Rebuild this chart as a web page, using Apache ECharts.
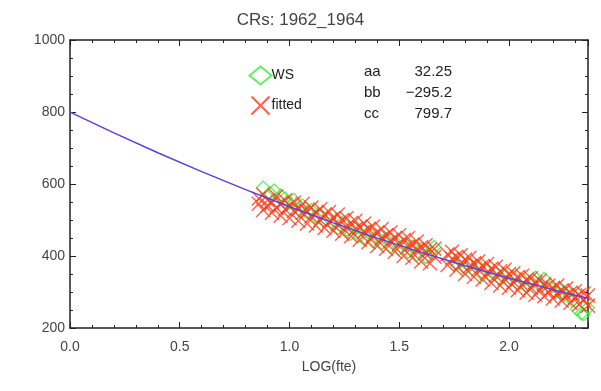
<!DOCTYPE html>
<html>
<head>
<meta charset="utf-8">
<script src="https://cdn.jsdelivr.net/npm/echarts@6/dist/echarts.min.js"></script>
<style>
  html, body { margin: 0; padding: 0; background: #fff; }
  #chart { width: 601px; height: 391px; }
</style>
</head>
<body>
<div id="chart"></div>
<script>
// WS points (green diamonds)
const wsX = [0.88, 0.91, 0.93, 0.96, 0.98, 1.00, 1.02, 1.04, 1.06, 1.08, 1.10, 1.12, 1.14, 1.16, 1.18, 1.20, 1.22, 1.24, 1.26,
  1.28, 1.30, 1.32, 1.34, 1.36, 1.38, 1.40, 1.42, 1.44, 1.46, 1.48, 1.50, 1.52, 1.54, 1.56, 1.58, 1.60, 1.62, 1.64, 1.66,
  1.74, 1.76, 1.78, 1.80, 1.82, 1.84, 1.86, 1.88, 1.90, 1.92, 1.94, 1.96, 1.98, 2.00, 2.02, 2.04, 2.06, 2.08, 2.10, 2.12, 2.14, 2.16,
  2.19, 2.21, 2.23, 2.25, 2.27, 2.29, 2.31, 2.33, 2.34, 2.36]
const wsY = [590, 575, 582, 568, 560, 548, 556, 531, 540, 522, 528, 509, 515, 497, 505, 486, 478, 492, 470,
  462, 476, 455, 448, 466, 440, 452, 436, 447, 425, 438, 420, 432, 411, 426, 404, 420, 397, 412, 425,
  392, 378, 386, 365, 374, 360, 372, 348, 362, 344, 353, 336, 348, 330, 342, 322, 335, 316, 328, 340, 318, 336,
  312, 300, 306, 292, 298, 276, 252, 240, 238, 256]

// fitted points (red crosses)
const fitX = [0.86, 0.86, 0.88, 0.88, 0.90, 0.90, 0.92, 0.92, 0.94, 0.94, 0.96, 0.96, 0.98, 0.98, 1.00, 1.00,
  1.02, 1.02, 1.04, 1.04, 1.06, 1.06, 1.08, 1.08, 1.10, 1.10, 1.12, 1.12, 1.14, 1.14, 1.16, 1.16,
  1.18, 1.18, 1.20, 1.20, 1.22, 1.22, 1.24, 1.24, 1.26, 1.26,
  1.28, 1.28, 1.30, 1.30, 1.32, 1.32, 1.34, 1.34, 1.36, 1.36, 1.38, 1.38, 1.40, 1.40, 1.42, 1.42,
  1.44, 1.44, 1.46, 1.46, 1.48, 1.48, 1.50, 1.50, 1.52, 1.52, 1.54, 1.54, 1.56, 1.56, 1.58, 1.58,
  1.60, 1.60, 1.62, 1.62, 1.64, 1.64, 1.66, 1.66,
  1.72, 1.72, 1.74, 1.74, 1.76, 1.76, 1.78, 1.78, 1.80, 1.80, 1.82, 1.82, 1.84, 1.84, 1.86, 1.86,
  1.88, 1.88, 1.90, 1.90, 1.92, 1.92, 1.94, 1.94, 1.96, 1.96, 1.98, 1.98, 2.00, 2.00, 2.02, 2.02,
  2.04, 2.04, 2.06, 2.06, 2.08, 2.08, 2.10, 2.10, 2.12, 2.12, 2.14, 2.14, 2.16, 2.16,
  2.18, 2.18, 2.20, 2.20, 2.22, 2.22, 2.24, 2.24, 2.26, 2.26, 2.28, 2.28, 2.30, 2.30, 2.32, 2.32,
  2.34, 2.34, 2.36, 2.36]
const fitY = [545, 560, 528, 570, 540, 555, 520, 548, 535, 565, 512, 545, 530, 555, 505, 540,
  525, 548, 498, 530, 520, 545, 490, 525, 510, 535, 485, 520, 500, 530, 478, 515,
  495, 522, 470, 505, 488, 515, 462, 500, 480, 505,
  455, 492, 475, 498, 445, 480, 468, 490, 438, 475, 455, 482, 428, 465, 448, 475,
  420, 458, 440, 465, 412, 450, 432, 458, 400, 445, 425, 450, 395, 432, 415, 440,
  385, 425, 408, 430, 380, 418, 398, 420,
  375, 405, 392, 412, 362, 398, 378, 402, 350, 390, 370, 395, 342, 380, 362, 385,
  335, 372, 352, 378, 325, 365, 345, 370, 318, 358, 336, 362, 312, 350, 328, 352,
  305, 342, 320, 345, 298, 335, 312, 338, 292, 328, 306, 332, 288, 322,
  300, 318, 282, 312, 296, 318, 276, 305, 290, 310, 270, 298, 284, 302, 265, 292,
  278, 296, 262, 290]

// blue fitted curve
const curveX = [0.0, 0.2, 0.4, 0.6, 0.8, 1.0, 1.2, 1.4, 1.6, 1.8, 2.0, 2.2, 2.36]
const curveY = [799.7, 742.0, 686.8, 634.2, 584.2, 536.8, 491.9, 449.6, 409.9, 372.8, 338.3, 306.4, 282.6]

const coefNames = ['aa', 'bb', 'cc']
const coefValues = ['32.25', '\u2212295.2', '799.7']

const FONT = 'Liberation Sans'
const GREEN = '#3ee83e'
const RED = '#ff3a1a'
const CROSS = 'path://M0,0L10,10M10,0L0,10'

const chart = echarts.init(document.getElementById('chart'))

const tickStyle = { show: true, inside: true, length: 6, lineStyle: { color: '#222', width: 1 } }
const minorStyle = { show: true, length: 3, lineStyle: { color: '#222', width: 1 } }
const lineStyle = { show: true, onZero: false, lineStyle: { color: '#222', width: 1.5 } }

const option = {
  animation: false,
  title: {
    text: 'CRs: 1962_1964',
    left: 'center',
    top: 7,
    textStyle: { fontFamily: FONT, fontSize: 17, fontWeight: 'normal', color: '#444' }
  },
  legend: {
    orient: 'vertical',
    left: 242,
    top: 59,
    itemWidth: 22,
    itemHeight: 18,
    itemGap: 7,
    textStyle: { fontFamily: FONT, fontSize: 14, color: '#222', padding: [0, 0, 0, -5] },
    data: [
      { name: 'WS', icon: 'diamond' },
      { name: 'fitted', icon: CROSS }
    ]
  },
  graphic: coefNames.map((n, i) => [
    {
      type: 'text', left: 364, top: 64 + i * 21,
      style: { text: n, fontFamily: FONT, fontSize: 15, fill: '#222' }
    },
    {
      type: 'text', right: 601 - 452, top: 64 + i * 21,
      style: { text: coefValues[i], fontFamily: FONT, fontSize: 15, fill: '#222' }
    }
  ]).flat(),
  grid: { left: 70, right: 13, top: 40, bottom: 63 },
  xAxis: [
    {
      type: 'value', min: 0, max: 2.36, interval: 0.5,
      axisLine: lineStyle, axisTick: tickStyle, splitLine: { show: false },
      minorTick: { ...minorStyle, splitNumber: 5 },
      name: 'LOG(fte)', nameLocation: 'middle', nameGap: 32,
      nameTextStyle: { fontFamily: FONT, fontSize: 14, color: '#444' },
      axisLabel: {
        fontFamily: FONT, fontSize: 14, color: '#444', margin: 12, showMaxLabel: false,
        formatter: v => v.toFixed(1)
      }
    },
    {
      type: 'value', min: 0, max: 2.36, interval: 0.5, position: 'top',
      axisLine: lineStyle, axisTick: tickStyle, splitLine: { show: false },
      minorTick: { ...minorStyle, splitNumber: 5 },
      axisLabel: { show: false }
    }
  ],
  yAxis: [
    {
      type: 'value', min: 200, max: 1000, interval: 200,
      axisLine: lineStyle, axisTick: tickStyle, splitLine: { show: false },
      minorTick: { ...minorStyle, splitNumber: 4 },
      axisLabel: { fontFamily: FONT, fontSize: 14, color: '#444', margin: 5, formatter: v => String(v) }
    },
    {
      type: 'value', min: 200, max: 1000, interval: 200, position: 'right',
      axisLine: lineStyle, axisTick: tickStyle, splitLine: { show: false },
      minorTick: { ...minorStyle, splitNumber: 4 },
      axisLabel: { show: false }
    }
  ],
  series: [
    {
      name: 'WS',
      type: 'scatter',
      symbol: 'diamond',
      symbolSize: 13,
      itemStyle: { color: 'none', borderColor: GREEN, borderWidth: 1.3 },
      data: wsX.map((x, i) => [x, wsY[i]]),
      z: 2
    },
    {
      name: 'fitted',
      type: 'scatter',
      symbol: CROSS,
      symbolSize: 14,
      itemStyle: { color: 'none', borderColor: RED, borderWidth: 1.4 },
      data: fitX.map((x, i) => [x, fitY[i]]),
      z: 3
    },
    {
      name: 'curve',
      type: 'line',
      showSymbol: false,
      smooth: false,
      lineStyle: { color: '#5a3ee6', width: 1.4 },
      data: curveX.map((x, i) => [x, curveY[i]]),
      z: 4
    }
  ]
}

chart.setOption(option)
</script>
</body>
</html>
